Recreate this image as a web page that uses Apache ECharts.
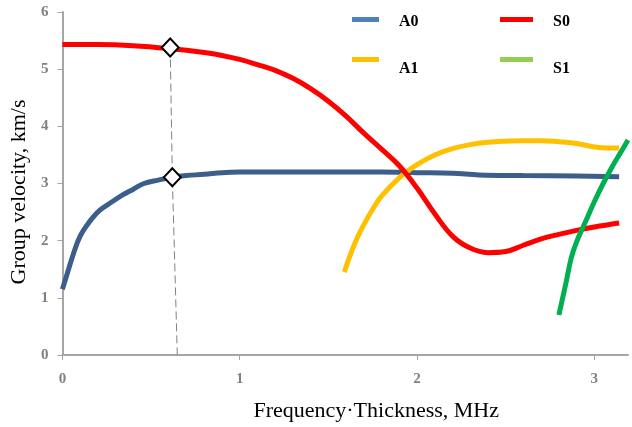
<!DOCTYPE html>
<html>
<head>
<meta charset="utf-8">
<script src="https://cdn.jsdelivr.net/npm/echarts@6/dist/echarts.min.js"></script>
<style>html,body{margin:0;padding:0;background:#fff}#c{width:632px;height:427px}</style>
</head>
<body>
<div id="c"></div>
<script>
// Data
const a0X = [0, 0.03, 0.06, 0.1, 0.15, 0.21, 0.28, 0.34, 0.4, 0.46, 0.54, 0.62, 0.7, 0.8, 0.9, 1.0, 1.2, 1.4, 1.6, 1.8, 2.0, 2.2, 2.35, 2.6, 2.9, 3.14];
const a0Y = [1.15, 1.45, 1.75, 2.08, 2.32, 2.53, 2.68, 2.8, 2.9, 3.0, 3.06, 3.11, 3.14, 3.16, 3.19, 3.2, 3.2, 3.2, 3.2, 3.2, 3.19, 3.18, 3.15, 3.14, 3.13, 3.12];
const s0X = [0, 0.2, 0.4, 0.6, 0.8, 0.9, 1.0, 1.1, 1.2, 1.3, 1.4, 1.5, 1.6, 1.7, 1.8, 1.9, 2.0, 2.1, 2.2, 2.3, 2.4, 2.5, 2.6, 2.7, 2.8, 2.9, 3.0, 3.14];
const s0Y = [5.43, 5.43, 5.41, 5.36, 5.29, 5.24, 5.17, 5.08, 4.98, 4.84, 4.66, 4.44, 4.18, 3.88, 3.6, 3.31, 2.92, 2.47, 2.08, 1.87, 1.79, 1.81, 1.92, 2.03, 2.11, 2.18, 2.24, 2.31];
const a1X = [1.59, 1.62, 1.66, 1.7, 1.75, 1.8, 1.9, 2.0, 2.1, 2.2, 2.3, 2.4, 2.5, 2.6, 2.7, 2.8, 2.9, 3.0, 3.07, 3.14];
const a1Y = [1.45, 1.72, 2.03, 2.28, 2.55, 2.78, 3.1, 3.33, 3.5, 3.61, 3.68, 3.72, 3.74, 3.75, 3.75, 3.73, 3.7, 3.64, 3.62, 3.62];
const s1X = [2.8, 2.84, 2.87, 2.9, 2.95, 3.0, 3.05, 3.1, 3.15, 3.19];
const s1Y = [0.70, 1.26, 1.7, 1.98, 2.33, 2.68, 3.0, 3.29, 3.55, 3.76];
const markX = [0.608, 0.62];
const markY = [5.38, 3.11];
const guideX = [0.608, 0.62, 0.648];
const guideY = [5.38, 3.11, 0];
const xTicks = [0, 1, 2, 3];
const yTicks = [0, 1, 2, 3, 4, 5, 6];

const zip = (xs, ys) => xs.map((x, i) => [x, ys[i]]);

const chart = echarts.init(document.getElementById('c'), null, {renderer: 'canvas'});
const serif = '"Liberation Serif", "Times New Roman", serif';
function legendAt(name, left, top, w, color, padTop) {
  return {
    data: [name], left: left, top: top, padding: 0, icon: 'rect',
    itemWidth: w, itemHeight: 5, selectedMode: false,
    itemStyle: {color: color},
    formatter: '{t|{name}}',
    textStyle: {fontFamily: serif, fontWeight: 'bold', fontSize: 16, color: '#000',
      rich: {t: {fontFamily: serif, fontWeight: 'bold', fontSize: 16, color: '#000', padding: [padTop, 0, 0, 15]}}}
  };
}
const option = {
  animation: false,
  backgroundColor: '#fff',
  grid: {left: 62, right: 4, top: 12, bottom: 72, containLabel: false},
  legend: [
    legendAt('A0', 352, 14, 27, '#4f81bd', 5),
    legendAt('S0', 500, 14, 33, '#ff0000', 5),
    legendAt('A1', 352, 57, 27, '#ffc000', 18),
    legendAt('S1', 500, 57, 33, '#92d050', 18)
  ],
  xAxis: {
    type: 'value', min: 0, max: 3.19, interval: 1,
    name: 'Frequency·Thickness, MHz', nameLocation: 'middle', nameGap: 45,
    nameTextStyle: {fontFamily: serif, fontSize: 22, color: '#000', padding: [0, 0, 0, 62]},
    axisLine: {show: true, lineStyle: {color: '#a6a6a6', width: 2}},
    axisTick: {show: true, length: 5, lineStyle: {color: '#a6a6a6', width: 1}},
    axisLabel: {showMaxLabel: false, margin: 17, fontFamily: serif, fontWeight: 'bold', fontSize: 15, color: '#808080',
      formatter: v => xTicks.includes(v) ? String(v) : ''},
    splitLine: {show: false}
  },
  yAxis: {
    type: 'value', min: 0, max: 6, interval: 1,
    name: 'Group velocity, km/s', nameLocation: 'middle', nameGap: 30,
    nameTextStyle: {fontFamily: serif, fontSize: 22, color: '#000', padding: [0, 17, 0, 0]},
    axisLine: {show: true, lineStyle: {color: '#a6a6a6', width: 2}},
    axisTick: {show: true, length: 5, lineStyle: {color: '#a6a6a6', width: 1}},
    axisLabel: {margin: 14, fontFamily: serif, fontWeight: 'bold', fontSize: 15, color: '#808080',
      formatter: v => yTicks.includes(v) ? String(v) : ''},
    splitLine: {show: false}
  },
  series: [
    {name: 'A0', type: 'line', smooth: 0.4, showSymbol: false, symbol: 'none', z: 2,
      itemStyle: {color: '#4f81bd'}, lineStyle: {color: '#3b5e8c', width: 5}, data: zip(a0X, a0Y)},
    {name: 'A1', type: 'line', smooth: 0.4, showSymbol: false, symbol: 'none', z: 3,
      itemStyle: {color: '#ffc000'}, lineStyle: {color: '#ffc000', width: 5}, data: zip(a1X, a1Y)},
    {name: 'S0', type: 'line', smooth: 0.4, showSymbol: false, symbol: 'none', z: 4,
      itemStyle: {color: '#ff0000'}, lineStyle: {color: '#ff0000', width: 5}, data: zip(s0X, s0Y)},
    {name: 'S1', type: 'line', smooth: 0.4, showSymbol: false, symbol: 'none', z: 5,
      itemStyle: {color: '#92d050'}, lineStyle: {color: '#00b050', width: 5}, data: zip(s1X, s1Y)},
    {name: 'guide', type: 'line', showSymbol: false, symbol: 'none', z: 6, silent: true,
      lineStyle: {color: '#808080', width: 1, type: [8, 4]}, data: zip(guideX, guideY)},
    {name: 'marks', type: 'scatter', symbol: 'diamond', symbolSize: [17, 18], z: 7, silent: true,
      itemStyle: {color: '#ffffff', opacity: 1, borderColor: '#000', borderWidth: 2}, data: zip(markX, markY)}
  ]
};
chart.setOption(option);
</script>
</body>
</html>
